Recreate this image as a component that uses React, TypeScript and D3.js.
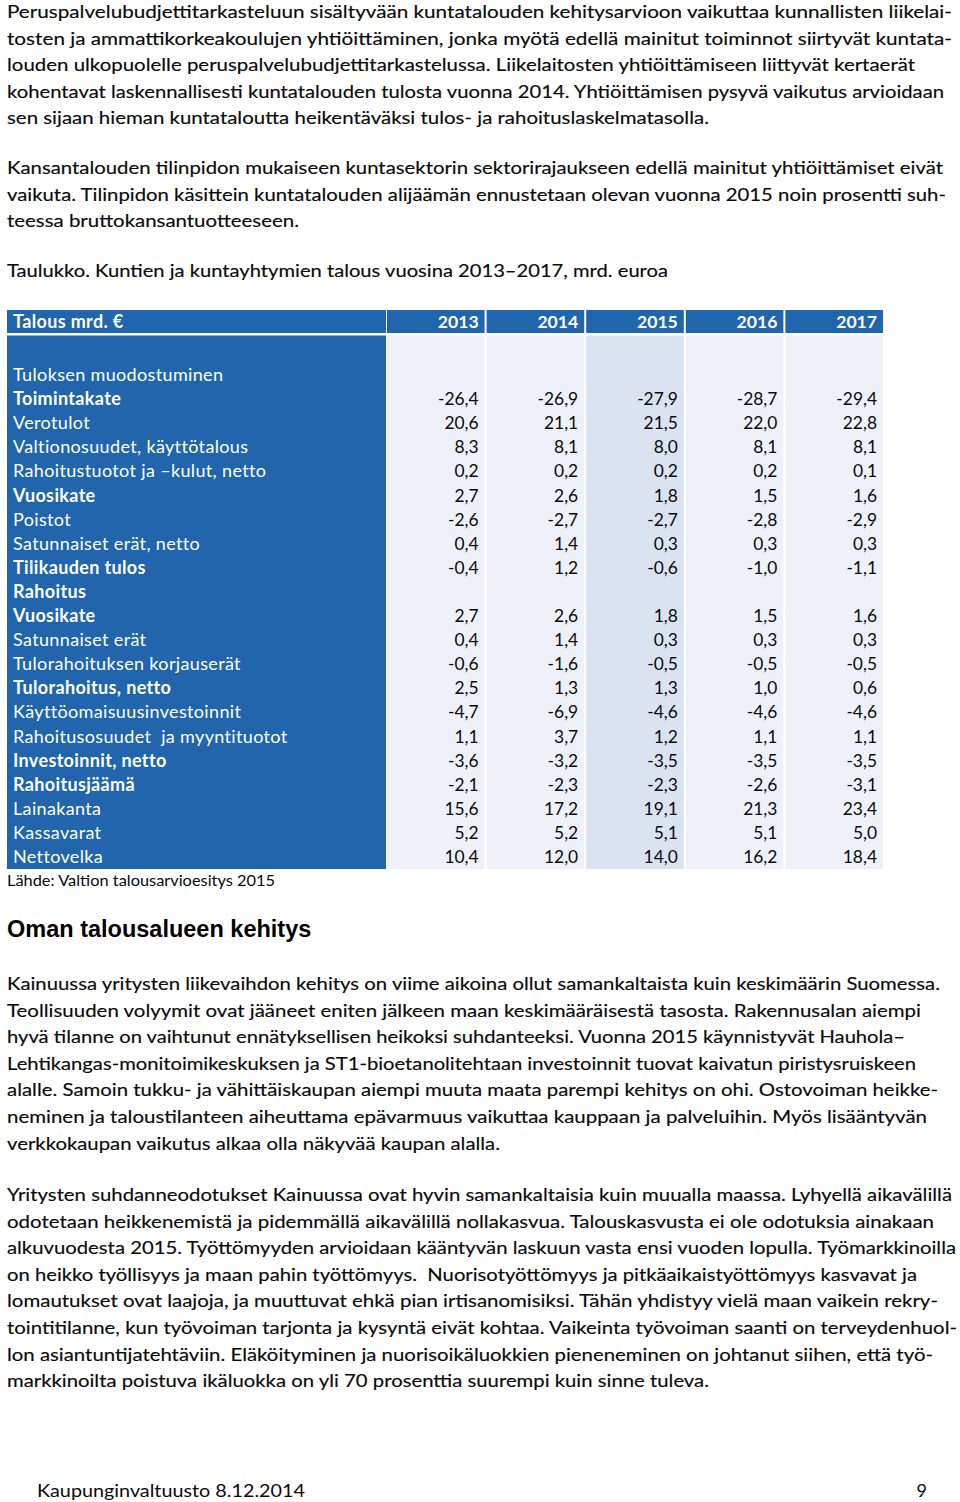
import React from "react";
import * as d3 from "d3";

// ---------- DATA ----------
const para1 = [
  "Peruspalvelubudjettitarkasteluun sisältyvään kuntatalouden kehitysarvioon vaikuttaa kunnallisten liikelai-",
  "tosten ja ammattikorkeakoulujen yhtiöittäminen, jonka myötä edellä mainitut toiminnot siirtyvät kuntata-",
  "louden ulkopuolelle peruspalvelubudjettitarkastelussa. Liikelaitosten yhtiöittämiseen liittyvät kertaerät",
  "kohentavat laskennallisesti kuntatalouden tulosta vuonna 2014. Yhtiöittämisen pysyvä vaikutus arvioidaan",
  "sen sijaan hieman kuntataloutta heikentäväksi tulos- ja rahoituslaskelmatasolla.",
];
const para2 = [
  "Kansantalouden tilinpidon mukaiseen kuntasektorin sektorirajaukseen edellä mainitut yhtiöittämiset eivät",
  "vaikuta. Tilinpidon käsittein kuntatalouden alijäämän ennustetaan olevan vuonna 2015 noin prosentti suh-",
  "teessa bruttokansantuotteeseen.",
];
const caption = "Taulukko. Kuntien ja kuntayhtymien talous vuosina 2013–2017, mrd. euroa";
const headerLabel = "Talous mrd. €";
const years = ["2013", "2014", "2015", "2016", "2017"];
const rowLabels = [
  "Tuloksen muodostuminen", "Toimintakate", "Verotulot", "Valtionosuudet, käyttötalous",
  "Rahoitustuotot ja –kulut, netto", "Vuosikate", "Poistot", "Satunnaiset erät, netto",
  "Tilikauden tulos", "Rahoitus", "Vuosikate", "Satunnaiset erät", "Tulorahoituksen korjauserät",
  "Tulorahoitus, netto", "Käyttöomaisuusinvestoinnit", "Rahoitusosuudet  ja myyntituotot",
  "Investoinnit, netto", "Rahoitusjäämä", "Lainakanta", "Kassavarat", "Nettovelka",
];
const rowBold = [false, true, false, false, false, true, false, false, true, true, true, false, false, true, false, false, true, true, false, false, false];
const rowValues: (string[] | null)[] = [
  null,
  ["-26,4", "-26,9", "-27,9", "-28,7", "-29,4"],
  ["20,6", "21,1", "21,5", "22,0", "22,8"],
  ["8,3", "8,1", "8,0", "8,1", "8,1"],
  ["0,2", "0,2", "0,2", "0,2", "0,1"],
  ["2,7", "2,6", "1,8", "1,5", "1,6"],
  ["-2,6", "-2,7", "-2,7", "-2,8", "-2,9"],
  ["0,4", "1,4", "0,3", "0,3", "0,3"],
  ["-0,4", "1,2", "-0,6", "-1,0", "-1,1"],
  null,
  ["2,7", "2,6", "1,8", "1,5", "1,6"],
  ["0,4", "1,4", "0,3", "0,3", "0,3"],
  ["-0,6", "-1,6", "-0,5", "-0,5", "-0,5"],
  ["2,5", "1,3", "1,3", "1,0", "0,6"],
  ["-4,7", "-6,9", "-4,6", "-4,6", "-4,6"],
  ["1,1", "3,7", "1,2", "1,1", "1,1"],
  ["-3,6", "-3,2", "-3,5", "-3,5", "-3,5"],
  ["-2,1", "-2,3", "-2,3", "-2,6", "-3,1"],
  ["15,6", "17,2", "19,1", "21,3", "23,4"],
  ["5,2", "5,2", "5,1", "5,1", "5,0"],
  ["10,4", "12,0", "14,0", "16,2", "18,4"],
];
const source = "Lähde: Valtion talousarvioesitys 2015";
const heading = "Oman talousalueen kehitys";
const para3 = [
  "Kainuussa yritysten liikevaihdon kehitys on viime aikoina ollut samankaltaista kuin keskimäärin Suomessa.",
  "Teollisuuden volyymit ovat jääneet eniten jälkeen maan keskimääräisestä tasosta. Rakennusalan aiempi",
  "hyvä tilanne on vaihtunut ennätyksellisen heikoksi suhdanteeksi. Vuonna 2015 käynnistyvät Hauhola–",
  "Lehtikangas-monitoimikeskuksen ja ST1-bioetanolitehtaan investoinnit tuovat kaivatun piristysruiskeen",
  "alalle. Samoin tukku- ja vähittäiskaupan aiempi muuta maata parempi kehitys on ohi. Ostovoiman heikke-",
  "neminen ja taloustilanteen aiheuttama epävarmuus vaikuttaa kauppaan ja palveluihin. Myös lisääntyvän",
  "verkkokaupan vaikutus alkaa olla näkyvää kaupan alalla.",
];
const para4 = [
  "Yritysten suhdanneodotukset Kainuussa ovat hyvin samankaltaisia kuin muualla maassa. Lyhyellä aikavälillä",
  "odotetaan heikkenemistä ja pidemmällä aikavälillä nollakasvua. Talouskasvusta ei ole odotuksia ainakaan",
  "alkuvuodesta 2015. Työttömyyden arvioidaan kääntyvän laskuun vasta ensi vuoden lopulla. Työmarkkinoilla",
  "on heikko työllisyys ja maan pahin työttömyys.  Nuorisotyöttömyys ja pitkäaikaistyöttömyys kasvavat ja",
  "lomautukset ovat laajoja, ja muuttuvat ehkä pian irtisanomisiksi. Tähän yhdistyy vielä maan vaikein rekry-",
  "tointitilanne, kun työvoiman tarjonta ja kysyntä eivät kohtaa. Vaikeinta työvoiman saanti on terveydenhuol-",
  "lon asiantuntijatehtäviin. Eläköityminen ja nuorisoikäluokkien pieneneminen on johtanut siihen, että työ-",
  "markkinoilta poistuva ikäluokka on yli 70 prosenttia suurempi kuin sinne tuleva.",
];
const footerLeft = "Kaupunginvaltuusto 8.12.2014";
const footerRight = "9";

// ---------- LAYOUT ----------
const W = 960, H = 1502;
const FONT = "Lato, 'Open Sans', sans-serif";
const BLUE = "#2165ac";
const LIGHT = "#eef2f8";
const HILITE = "#dae3ef";
const TEXT = "#0a0a0a";
const LEFT = 7;
const LINE = 26.6;
const FS = 17.6;

// measured right edges of each text line (layout)
const p1Ends = [952, 952, 915, 944, 709];
const p2Ends = [943, 946, 299];
const p3Ends = [940, 921, 905, 916, 938, 927, 500];
const p4Ends = [952, 934, 956, 917, 938, 957, 933, 709];

function Para({ lines, ends, y0 }: { lines: string[]; ends: number[]; y0: number }) {
  return (
    <g>
      {lines.map((t, i) => (
        <text key={i} x={LEFT} y={y0 + i * LINE} fontSize={FS} fill={TEXT} stroke={TEXT} strokeWidth={0.15}
          textLength={ends[i] - LEFT} lengthAdjust="spacingAndGlyphs" xmlSpace="preserve">{t}</text>
      ))}
    </g>
  );
}

export default function App() {
  const x = d3.scaleBand<string>().domain(years).range([386, 884]).paddingInner(0.02).paddingOuter(0.01);
  const rowY = d3.scaleLinear().domain([0, rowLabels.length - 1]).range([381, 863]);
  const headTop = 310, headBot = 333, bodyTop = 335.5, bodyBot = 869;
  const labelX0 = 7, labelX1 = 386;

  return (
    <svg width={W} height={H} style={{ position: "absolute", left: 0, top: 0, background: "#fff" }} fontFamily={FONT}>
      <rect width={W} height={H} fill="#fff" />
      <Para lines={para1} ends={p1Ends} y0={18} />
      <Para lines={para2} ends={p2Ends} y0={174} />
      <text x={LEFT} y={277} fontSize={FS} fill={TEXT} stroke={TEXT} strokeWidth={0.15} textLength={668 - LEFT} lengthAdjust="spacingAndGlyphs">{caption}</text>

      {/* table header */}
      <rect x={labelX0} y={headTop} width={labelX1 - labelX0} height={headBot - headTop} fill={BLUE} />
      <text x={13} y={328} fontSize={18} letterSpacing={0.35} fontWeight="bold" fill="#fff">{headerLabel}</text>
      {years.map((yr) => (
        <g key={yr}>
          <rect x={x(yr)!} y={headTop} width={x.bandwidth()} height={headBot - headTop} fill={BLUE} />
          <text x={x(yr)! + x.bandwidth() - 6} y={328} fontSize={17.6} fontWeight="bold" fill="#fff" textAnchor="end">{yr}</text>
          <rect x={x(yr)!} y={bodyTop} width={x.bandwidth()} height={bodyBot - bodyTop} fill={yr === "2015" ? HILITE : LIGHT} />
        </g>
      ))}
      <rect x={labelX0} y={bodyTop} width={labelX1 - labelX0} height={bodyBot - bodyTop} fill={BLUE} />

      {rowLabels.map((lab, i) => (
        <g key={i}>
          <text x={13} y={rowY(i)} fontSize={18} letterSpacing={0.35} fontWeight={rowBold[i] ? "bold" : "normal"} fill="#fff" xmlSpace="preserve">{lab}</text>
          {rowValues[i] && rowValues[i]!.map((v, j) => (
            <text key={j} x={x(years[j])! + x.bandwidth() - 6} y={rowY(i)} fontSize={17.4} fill={TEXT} textAnchor="end">{v}</text>
          ))}
        </g>
      ))}

      <text x={LEFT} y={886} fontSize={15.4} fill={TEXT} textLength={275 - LEFT} lengthAdjust="spacingAndGlyphs">{source}</text>

      <text x={LEFT} y={937} fontSize={23.5} fontWeight="bold" fill="#000" fontFamily="'Liberation Sans', Arial, sans-serif">{heading}</text>

      <Para lines={para3} ends={p3Ends} y0={990} />
      <Para lines={para4} ends={p4Ends} y0={1201} />

      <text x={37} y={1497} fontSize={18} fill={TEXT} textLength={305 - 37} lengthAdjust="spacingAndGlyphs">{footerLeft}</text>
      <text x={927} y={1497} fontSize={18} fill={TEXT} textAnchor="end">{footerRight}</text>
    </svg>
  );
}
